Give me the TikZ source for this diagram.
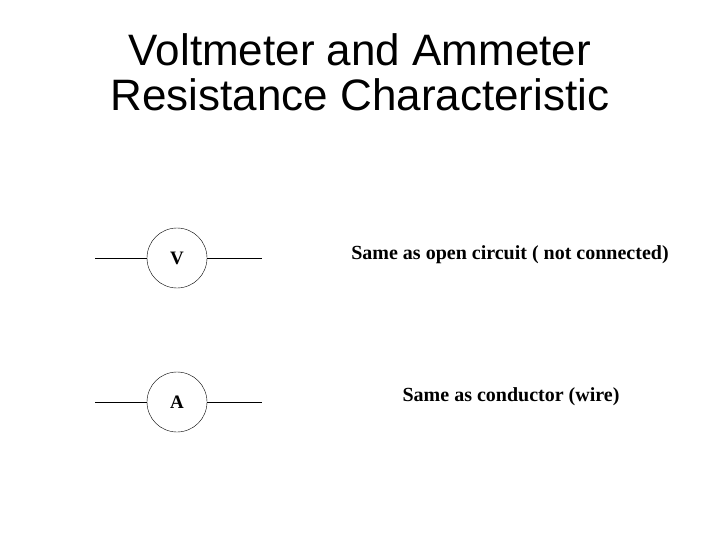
\documentclass[tikz,border=0pt]{standalone}
\usepackage{fontspec}
\setmainfont{Liberation Serif}
\newfontfamily\arialf{Liberation Sans}
\begin{document}
\begin{tikzpicture}[x=1pt,y=-1pt,
  meter/.style={draw,circle,minimum size=60pt,inner sep=0pt,font=\bfseries\fontsize{19}{22}\selectfont},
  lbl/.style={font=\bfseries\fontsize{20}{24}\selectfont},
  wire/.style={line width=0.8pt}]
\useasboundingbox (0,0) rectangle (720,540);
\node[font=\arialf\fontsize{44}{45}\selectfont,align=center] (t) at (360,72) {Voltmeter and Ammeter\\Resistance Characteristic};
\node[meter] (v) at (177,258) {V};
\node[meter] (a) at (177,402) {A};
\coordinate (v1) at (95,258); \coordinate (v2) at (262,258);
\coordinate (a1) at (95,402); \coordinate (a2) at (262,402);
\draw[wire] (v1) -- (v.west); \draw[wire] (v.east) -- (v2);
\draw[wire] (a1) -- (a.west); \draw[wire] (a.east) -- (a2);
\node[lbl] (lv) at (510,255) {Same as open circuit ( not connected)};
\node[lbl] (la) at (511,397) {Same as conductor (wire)};
\end{tikzpicture}
\end{document}
